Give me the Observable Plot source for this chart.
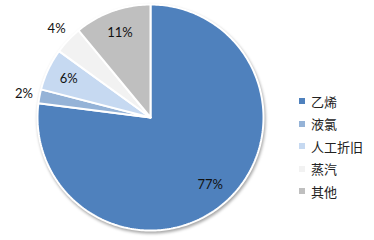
<!DOCTYPE html>
<html><head><meta charset="utf-8">
<script src="https://cdn.jsdelivr.net/npm/d3@7"></script>
<script src="https://cdn.jsdelivr.net/npm/@observablehq/plot@0.6"></script>
<style>
html,body{margin:0;padding:0;background:#fff;}
#wrap{position:relative;width:374px;height:240px;overflow:hidden;font-family:"Noto Sans CJK SC",sans-serif;}
#chart svg g[aria-label="line"]{filter:drop-shadow(1px 2px 1.5px rgba(0,0,0,0.35));}
#legend{position:absolute;left:299px;top:90px;}
#legend .lg-swatch{height:22.5px;margin:0;padding:0;display:flex;align-items:center;}
#legend .lg-swatch svg{margin-right:6px;}
</style>
</head><body>
<div id="wrap"><div id="chart"></div><div id="legend"></div></div>
<script>
const categories = ["乙烯", "液氯", "人工折旧", "蒸汽", "其他"];
const values = [77, 2, 6, 4, 11];
const labels = ["77%", "2%", "6%", "4%", "11%"];
const colors = ["#4F81BD", "#95B3D7", "#C6D9F1", "#F2F2F2", "#BFBFBF"];

const total = d3.sum(values);
const pts = [];
const lab = [];
let acc = 0;
categories.forEach((c, i) => {
  const a0 = acc / total * 2 * Math.PI;
  acc += values[i];
  const a1 = acc / total * 2 * Math.PI;
  pts.push({c, x: 0, y: 0});
  const n = Math.max(2, Math.ceil((a1 - a0) / (Math.PI / 180)));
  for (let k = 0; k <= n; k++) {
    const a = a0 + (a1 - a0) * k / n;
    pts.push({c, x: Math.sin(a), y: Math.cos(a)});
  }
  pts.push({c, x: 0, y: 0});
  const am = (a0 + a1) / 2;
  const r = values[i] < 5 ? 1.14 : 0.8;
  lab.push({t: labels[i], x: r * Math.sin(am), y: r * Math.cos(am)});
});

const chart = Plot.plot({
  width: 374, height: 240,
  margin: 0,
  style: {background: "transparent", overflow: "visible"},
  x: {domain: [-1, 1], range: [37, 263], axis: null},
  y: {domain: [-1, 1], range: [230, 4], axis: null},
  color: {domain: categories, range: colors},
  marks: [
    Plot.line(pts, {x: "x", y: "y", z: "c", fill: "c", stroke: "white", strokeWidth: 2, strokeLinejoin: "miter"}),
    Plot.text(lab, {x: "x", y: "y", text: "t", fill: "#111", fontSize: 13, fontFamily: "Lato, 'Open Sans', sans-serif"})
  ]
});
document.getElementById("chart").append(chart);

const legend = Plot.legend({
  color: {domain: categories, range: colors},
  legend: "swatches",
  columns: 1,
  swatchSize: 6,
  className: "lg",
  style: {fontSize: "13px", fontFamily: "'Noto Sans CJK SC', sans-serif", color: "#222", margin: 0}
});
document.getElementById("legend").append(legend);
</script>
</body></html>
